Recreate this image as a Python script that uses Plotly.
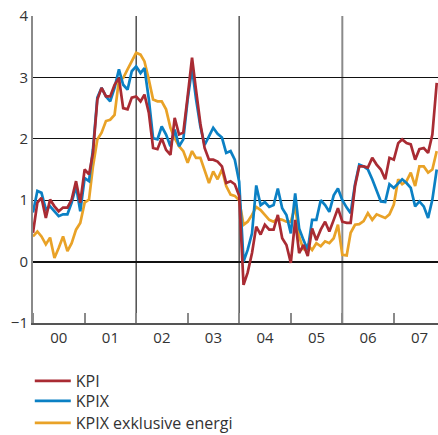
import pandas as pd
import plotly.graph_objects as go

months = pd.date_range("2000-01-01", periods=95, freq="MS")

kpi = [0.47, 0.96, 1.04, 0.71, 1.01, 0.90, 0.82, 0.88, 0.88, 1.01,
       1.31, 0.96, 1.50, 1.42, 1.77, 2.64, 2.83, 2.69, 2.69, 2.88,
       2.99, 2.50, 2.48, 2.67, 2.69, 2.61, 2.72, 2.42, 1.85, 1.83,
       2.01, 1.82, 1.74, 2.34, 2.07, 2.10, 2.69, 3.32, 2.80, 2.25,
       1.85, 1.66, 1.66, 1.63, 1.55, 1.28, 1.31, 1.26, 1.07, -0.38,
       -0.18, 0.14, 0.57, 0.44, 0.60, 0.52, 0.52, 0.76, 0.38, 0.27,
       -0.02, 0.68, 0.14, 0.27, 0.09, 0.54, 0.35, 0.52, 0.65, 0.49,
       0.68, 0.87, 0.65, 0.63, 0.63, 1.23, 1.55, 1.55, 1.53, 1.69,
       1.58, 1.50, 1.34, 1.69, 1.66, 1.93, 1.99, 1.93, 1.91, 1.66,
       1.83, 1.85, 1.77, 2.07, 2.91]

kpix = [0.80, 1.15, 1.12, 0.85, 0.90, 0.82, 0.74, 0.77, 0.77, 0.96,
        1.23, 0.82, 1.36, 1.31, 1.83, 2.67, 2.83, 2.69, 2.61, 2.83,
        3.13, 2.88, 2.80, 3.10, 3.18, 3.07, 3.15, 2.64, 2.01, 1.99,
        2.20, 2.07, 1.88, 2.15, 1.88, 1.99, 2.64, 3.15, 2.65, 2.20,
        1.90, 2.04, 2.18, 2.08, 2.02, 1.77, 1.80, 1.66, 1.30, 0.00,
        0.19, 0.46, 1.24, 0.92, 0.97, 0.89, 0.92, 1.19, 0.87, 0.76,
        0.46, 1.11, 0.54, 0.35, 0.19, 0.68, 0.68, 1.00, 0.92, 0.81,
        1.08, 1.19, 1.00, 0.88, 0.79, 1.26, 1.58, 1.55, 1.50, 1.34,
        1.17, 0.98, 0.97, 1.26, 1.20, 1.28, 1.34, 1.28, 1.20, 0.90,
        0.98, 0.90, 0.71, 1.01, 1.50]

kpix_ex = [0.41, 0.49, 0.41, 0.28, 0.39, 0.06, 0.22, 0.41, 0.17, 0.30,
           0.52, 0.63, 0.96, 1.01, 1.55, 1.99, 2.10, 2.29, 2.31, 2.39,
           2.96, 2.99, 3.13, 3.26, 3.40, 3.37, 3.26, 2.96, 2.64, 2.61,
           2.61, 2.48, 2.18, 2.01, 1.88, 1.80, 1.61, 1.80, 1.69, 1.69,
           1.50, 1.28, 1.47, 1.34, 1.50, 1.23, 1.09, 1.07, 1.00, 0.60,
           0.65, 0.76, 0.89, 0.84, 0.76, 0.68, 0.65, 0.70, 0.68, 0.65,
           0.65, 0.90, 0.41, 0.19, 0.27, 0.19, 0.30, 0.25, 0.33, 0.30,
           0.38, 0.60, 0.11, 0.10, 0.47, 0.60, 0.61, 0.66, 0.79, 0.68,
           0.77, 0.74, 0.71, 0.77, 0.93, 1.34, 1.26, 1.31, 1.45, 1.23,
           1.55, 1.55, 1.45, 1.50, 1.80]

names = ["KPIX exklusive energi", "KPIX", "KPI"]
colors = ["#E9A227", "#0B80C4", "#A92B33"]
series = [kpix_ex, kpix, kpi]
legend_ids = ["legend3", "legend2", "legend"]

grid_years = ["2002-01-01", "2004-01-01", "2006-01-01"]
y_ticks = [-1, 0, 1, 2, 3, 4]

fig = go.Figure()
for n, c, s, lg in zip(names, colors, series, legend_ids):
    fig.add_trace(go.Scatter(x=months, y=s, mode="lines", name=n, legend=lg,
                             line=dict(color=c, width=2.7)))

grid_styles = [("#222222", 1.2), ("#555555", 1.5), ("#8a8a8a", 2)]
for gx, (gc, gw) in zip(grid_years, grid_styles):
    fig.add_shape(type="line", xref="x", yref="paper", x0=gx, x1=gx, y0=0, y1=1,
                  line=dict(color=gc, width=gw), layer="below")


def leg(ypos):
    return dict(xref="container", yref="container", x=0.068, y=ypos,
                xanchor="left", yanchor="top",
                font=dict(size=16, color="#333333"),
                itemwidth=36, bgcolor="rgba(0,0,0,0)")


fig.update_layout(
    width=438, height=435,
    margin=dict(l=33, r=0, t=16, b=112, autoexpand=False),
    paper_bgcolor="white", plot_bgcolor="white",
    font=dict(family="Open Sans", size=15, color="#333333"),
    showlegend=True,
    legend=leg(0.1632),
    legend2=leg(0.1172),
    legend3=leg(0.0667),
)
fig.update_xaxes(
    range=["2000-01-01", "2007-11-10"],
    dtick="M12", tick0="2000-01-01", tickformat="%y",
    ticklabelmode="period",
    ticks="inside", ticklen=10, tickcolor="#8a8a8a", tickwidth=1.5,
    showgrid=False, showline=True, linecolor="#555555", linewidth=1.5,
    zeroline=False,
)
fig.update_yaxes(
    range=[-1, 4], tickvals=y_ticks, ticks="",
    showgrid=True, gridcolor="#111111", gridwidth=1.3,
    zeroline=True, zerolinecolor="#111111", zerolinewidth=2.2,
    showline=True, linecolor="#8a8a8a", linewidth=2,
)

fig.write_html("out.html", config={"displayModeBar": False},
               post_script="document.body.style.margin='0px';document.body.style.overflow='hidden';")
